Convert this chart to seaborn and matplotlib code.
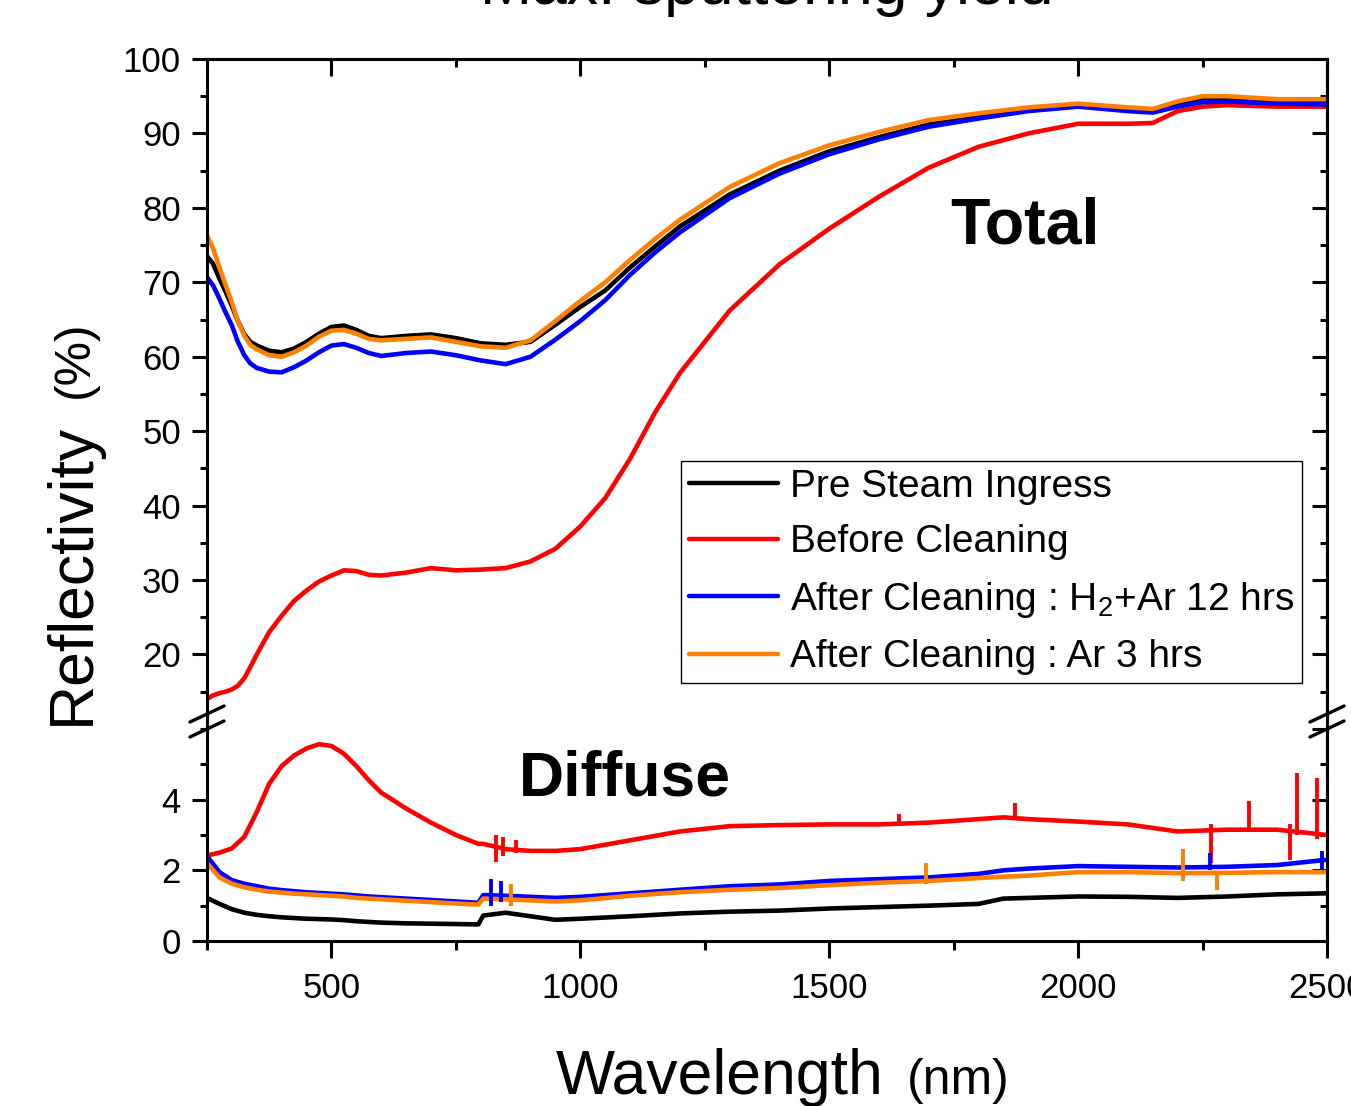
import numpy as np
import pandas as pd
import matplotlib
matplotlib.use("Agg")
import matplotlib.pyplot as plt
import seaborn as sns
from matplotlib.lines import Line2D
from matplotlib.ticker import MultipleLocator

# ---------------- data ----------------
SERIES = ["Pre Steam Ingress", "Before Cleaning",
          r"After Cleaning : H$_\mathregular{2}$+Ar 12 hrs", "After Cleaning : Ar 3 hrs"]
COLORS = ["#000000", "#FF0000", "#0000FF", "#FF8000"]

WL_TOTAL = [250, 262, 275, 287, 300, 312, 325, 337, 350, 375, 400, 425, 450, 475, 500, 525,
            550, 575, 600, 650, 700, 750, 800, 850, 900, 950, 1000, 1050, 1100, 1150, 1200,
            1300, 1400, 1500, 1600, 1700, 1800, 1900, 2000, 2100, 2150, 2200, 2250, 2300,
            2400, 2500]
TOTAL_PRE = [73.5, 72.5, 70.5, 68.8, 66.8, 64.8, 63.0, 62.0, 61.5, 60.8, 60.6, 61.1, 62.0,
             63.1, 64.0, 64.2, 63.6, 62.8, 62.5, 62.8, 63.0, 62.5, 61.8, 61.6, 62.0, 64.3,
             66.7, 68.9, 72.0, 74.8, 77.5, 81.8, 85.0, 87.6, 89.5, 91.2, 92.2, 93.2, 93.8,
             93.2, 93.0, 93.8, 94.5, 94.6, 94.3, 94.2]
TOTAL_BEFORE = [14.0, 14.5, 14.8, 15.0, 15.3, 15.8, 16.8, 18.3, 20.0, 23.0, 25.2, 27.2,
                28.6, 29.8, 30.6, 31.3, 31.2, 30.7, 30.6, 31.0, 31.6, 31.3, 31.4, 31.6, 32.5,
                34.2, 37.2, 41.0, 46.3, 52.5, 57.8, 66.2, 72.4, 77.2, 81.5, 85.4, 88.2, 90.0,
                91.3, 91.3, 91.4, 93.0, 93.6, 93.8, 93.6, 93.6]
TOTAL_H2AR = [70.7, 69.6, 67.8, 66.0, 64.2, 62.0, 60.2, 59.1, 58.5, 58.0, 57.9, 58.6, 59.5,
              60.6, 61.5, 61.7, 61.2, 60.5, 60.1, 60.5, 60.7, 60.2, 59.5, 59.0, 60.0, 62.3,
              64.8, 67.6, 71.0, 74.0, 76.7, 81.3, 84.6, 87.2, 89.2, 90.9, 92.0, 93.0, 93.6,
              93.0, 92.8, 93.6, 94.2, 94.3, 94.0, 93.9]
TOTAL_AR = [76.3, 74.6, 72.0, 69.7, 67.3, 64.8, 62.8, 61.6, 61.0, 60.2, 60.0, 60.6, 61.5,
            62.7, 63.5, 63.6, 63.1, 62.4, 62.2, 62.4, 62.6, 62.0, 61.4, 61.2, 62.2, 64.8,
            67.5, 70.0, 73.0, 75.8, 78.4, 82.8, 86.0, 88.4, 90.2, 91.8, 92.7, 93.5, 94.0,
            93.5, 93.3, 94.3, 95.0, 95.0, 94.6, 94.6]

WL_DIFF = [250, 275, 300, 325, 350, 375, 400, 425, 450, 475, 500, 525, 550, 575, 600, 650,
           700, 750, 795, 805, 850, 900, 950, 1000, 1100, 1200, 1300, 1400, 1500, 1600, 1700,
           1800, 1850, 1900, 2000, 2100, 2200, 2300, 2400, 2500]
DIFF_PRE = [1.22, 1.05, 0.9, 0.8, 0.74, 0.7, 0.67, 0.65, 0.63, 0.62, 0.61, 0.59, 0.56, 0.54,
            0.52, 0.5, 0.49, 0.48, 0.47, 0.72, 0.8, 0.7, 0.6, 0.63, 0.7, 0.78, 0.83, 0.86,
            0.92, 0.96, 1.0, 1.05, 1.2, 1.22, 1.26, 1.25, 1.22, 1.26, 1.32, 1.35]
DIFF_BEFORE = [2.42, 2.5, 2.62, 2.95, 3.65, 4.45, 4.95, 5.25, 5.45, 5.57, 5.52, 5.3, 4.95,
               4.55, 4.2, 3.75, 3.35, 3.0, 2.75, 2.75, 2.6, 2.55, 2.55, 2.6, 2.85, 3.1, 3.25,
               3.28, 3.3, 3.3, 3.35, 3.45, 3.5, 3.45, 3.38, 3.3, 3.1, 3.15, 3.15, 3.0]
DIFF_H2AR = [2.4, 1.95, 1.72, 1.62, 1.55, 1.48, 1.44, 1.41, 1.38, 1.36, 1.34, 1.32, 1.29,
             1.26, 1.24, 1.2, 1.16, 1.12, 1.08, 1.3, 1.28, 1.25, 1.22, 1.25, 1.35, 1.45,
             1.55, 1.6, 1.7, 1.75, 1.8, 1.9, 2.0, 2.05, 2.12, 2.1, 2.08, 2.1, 2.15, 2.3]
DIFF_AR = [2.2, 1.8, 1.62, 1.52, 1.45, 1.4, 1.37, 1.34, 1.32, 1.3, 1.28, 1.26, 1.22, 1.2,
           1.18, 1.14, 1.1, 1.06, 1.03, 1.2, 1.18, 1.15, 1.12, 1.15, 1.28, 1.38, 1.45, 1.5,
           1.58, 1.65, 1.7, 1.78, 1.82, 1.85, 1.95, 1.95, 1.92, 1.93, 1.95, 1.95]

# narrow spikes in the diffuse spectra: wavelength, low, high, series index
SPIKE_WL = [830, 845, 870, 1640, 1873, 2267, 2343, 2425, 2440, 2480,
            820, 860, 1695, 2210, 2280, 840, 2265, 2490]
SPIKE_LO = [2.25, 2.4, 2.5, 3.3, 3.45, 2.2, 3.1, 2.3, 3.0, 2.9,
            1.0, 1.0, 1.6, 1.7, 1.45, 1.1, 2.0, 2.0]
SPIKE_HI = [3.0, 2.95, 2.85, 3.6, 3.9, 3.3, 3.95, 3.3, 4.76, 4.6,
            1.75, 1.6, 2.2, 2.6, 1.95, 1.7, 2.5, 2.55]
SPIKE_SERIES = [1, 1, 1, 1, 1, 1, 1, 1, 1, 1, 2, 3, 3, 3, 3, 2, 2, 2]

# ---------------- styling ----------------
sns.set_theme(style="ticks")
plt.rcParams["font.family"] = ["Liberation Sans", "DejaVu Sans"]
plt.rcParams["mathtext.fontset"] = "custom"
plt.rcParams["mathtext.rm"] = "Liberation Sans"
plt.rcParams["mathtext.it"] = "Liberation Sans:italic"
plt.rcParams["mathtext.bf"] = "Liberation Sans:bold"
plt.rcParams["axes.linewidth"] = 2.2
for key in ("text.color", "axes.labelcolor", "xtick.color", "ytick.color",
            "axes.edgecolor", "xtick.labelcolor", "ytick.labelcolor"):
    plt.rcParams[key] = "black"

W, H = 1351, 1106
fig = plt.figure(figsize=(W / 100, H / 100), dpi=100)

def fx(px):
    return px / W

def fy(py):
    return 1 - py / H

L, R = 207, 1327
TOP_T, TOP_B = 59, 714
BOT_T, BOT_B = 729, 941
ax_top = fig.add_axes([fx(L), fy(TOP_B), fx(R - L), fy(TOP_T) - fy(TOP_B)])
ax_bot = fig.add_axes([fx(L), fy(BOT_B), fx(R - L), fy(BOT_T) - fy(BOT_B)])

palette = dict(zip(SERIES, COLORS))

def long_frame(wl, arrays):
    frames = []
    for name, vals in zip(SERIES, arrays):
        frames.append(pd.DataFrame({"wl": wl, "val": vals, "series": name}))
    return pd.concat(frames, ignore_index=True)

df_top = long_frame(WL_TOTAL, [TOTAL_PRE, TOTAL_BEFORE, TOTAL_H2AR, TOTAL_AR])
df_bot = long_frame(WL_DIFF, [DIFF_PRE, DIFF_BEFORE, DIFF_H2AR, DIFF_AR])

LW = 3.3
sns.lineplot(data=df_top, x="wl", y="val", hue="series", hue_order=SERIES,
             palette=palette, sort=False, estimator=None, linewidth=LW,
             ax=ax_top, legend=False)
sns.lineplot(data=df_bot, x="wl", y="val", hue="series", hue_order=SERIES,
             palette=palette, sort=False, estimator=None, linewidth=LW,
             ax=ax_bot, legend=False)
for s in range(4):
    xs = [w for w, k in zip(SPIKE_WL, SPIKE_SERIES) if k == s]
    lo = [v for v, k in zip(SPIKE_LO, SPIKE_SERIES) if k == s]
    hi = [v for v, k in zip(SPIKE_HI, SPIKE_SERIES) if k == s]
    if xs:
        ax_bot.vlines(xs, lo, hi, colors=COLORS[s], linewidth=2.8)

# ---------------- axes ----------------
for ax in (ax_top, ax_bot):
    ax.set_xlim(250, 2500)
    ax.set_xlabel("")
    ax.set_ylabel("")
    ax.xaxis.set_major_locator(MultipleLocator(500))
    ax.xaxis.set_minor_locator(MultipleLocator(250))
    ax.tick_params(axis="y", which="major", direction="out", length=10.8, width=2.2,
                   labelsize=25, pad=8, right=False, left=True)
    ax.tick_params(axis="y", which="minor", direction="out", length=5.2, width=2.2,
                   right=False, left=True)
    ax.spines["right"].set_visible(True)
    ax.spines["top"].set_visible(True)

ax_top.set_ylim(12, 100)
ax_top.yaxis.set_major_locator(MultipleLocator(10))
ax_top.yaxis.set_minor_locator(MultipleLocator(5))
ax_top.set_yticks([20, 30, 40, 50, 60, 70, 80, 90, 100])
ax_top.tick_params(axis="x", which="both", bottom=False, top=False,
                   labelbottom=False, labeltop=False)
ax_top.spines["bottom"].set_visible(False)

ax_bot.set_ylim(0, 6)
ax_bot.yaxis.set_major_locator(MultipleLocator(2))
ax_bot.yaxis.set_minor_locator(MultipleLocator(1))
ax_bot.set_yticks([0, 2, 4])
ax_bot.tick_params(axis="x", which="major", direction="out", length=12.5, width=2.2,
                   labelsize=25, pad=10, top=False, bottom=True)
ax_bot.tick_params(axis="x", which="minor", direction="out", length=6.2, width=2.2,
                   top=False, bottom=True)
ax_bot.spines["top"].set_visible(False)

# mirrored inward ticks on the right and top
for ax, step_major, step_minor in ((ax_top, 10, 5), (ax_bot, 2, 1)):
    sec = ax.secondary_yaxis("right")
    sec.yaxis.set_major_locator(MultipleLocator(step_major))
    sec.yaxis.set_minor_locator(MultipleLocator(step_minor))
    sec.tick_params(axis="y", which="major", direction="in", length=10.8, width=2.2,
                    labelright=False)
    sec.tick_params(axis="y", which="minor", direction="in", length=5.2, width=2.2)
    sec.spines["right"].set_linewidth(2.2)

sect = ax_top.secondary_xaxis("top")
sect.xaxis.set_major_locator(MultipleLocator(500))
sect.xaxis.set_minor_locator(MultipleLocator(250))
sect.tick_params(axis="x", which="major", direction="in", length=12.0, width=2.2,
                 labeltop=False)
sect.tick_params(axis="x", which="minor", direction="in", length=5.8, width=2.2)
sect.spines["top"].set_linewidth(2.2)

# spine continuation across the break and the break marks
for xp in (L, R):
    fig.add_artist(Line2D([fx(xp), fx(xp)], [fy(TOP_B), fy(BOT_T)], color="black",
                          linewidth=2.2, transform=fig.transFigure))
    for yc in (TOP_B, BOT_T):
        fig.add_artist(Line2D([fx(xp - 17), fx(xp + 17)], [fy(yc + 8), fy(yc - 8)],
                              color="black", linewidth=2.4, transform=fig.transFigure))

# legend
handles = [Line2D([0], [0], color=c, linewidth=3.2) for c in COLORS]
leg = ax_top.legend(handles, SERIES, loc="upper left",
                    bbox_to_anchor=((681 - L) / (R - L), 1 - (461 - TOP_T) / (TOP_B - TOP_T)),
                    borderaxespad=0, fontsize=28, frameon=True, fancybox=False,
                    edgecolor="black", framealpha=1, borderpad=0.2, handlelength=2.3,
                    handletextpad=0.3, labelspacing=0.5)
leg.get_frame().set_linewidth(1.0)

# texts
fig.text(fx(767), fy(4), "Max. sputtering yield", ha="center", va="baseline", fontsize=45)
fig.text(fx(950), fy(244), "Total", ha="left", va="baseline", fontsize=46.5, fontweight="bold")
fig.text(fx(519), fy(796), "Diffuse", ha="left", va="baseline", fontsize=45, fontweight="bold")
fig.text(fx(720), fy(1094), "Wavelength", ha="center", va="baseline", fontsize=45)
fig.text(fx(958), fy(1094), "(nm)", ha="center", va="baseline", fontsize=36)
fig.text(fx(72), fy(574), "Reflectivity", ha="center", va="center", rotation=90, fontsize=45)
fig.text(fx(75), fy(359), "(%)", ha="center", va="center", rotation=90, fontsize=36)

fig.savefig("out.png", dpi=100)
